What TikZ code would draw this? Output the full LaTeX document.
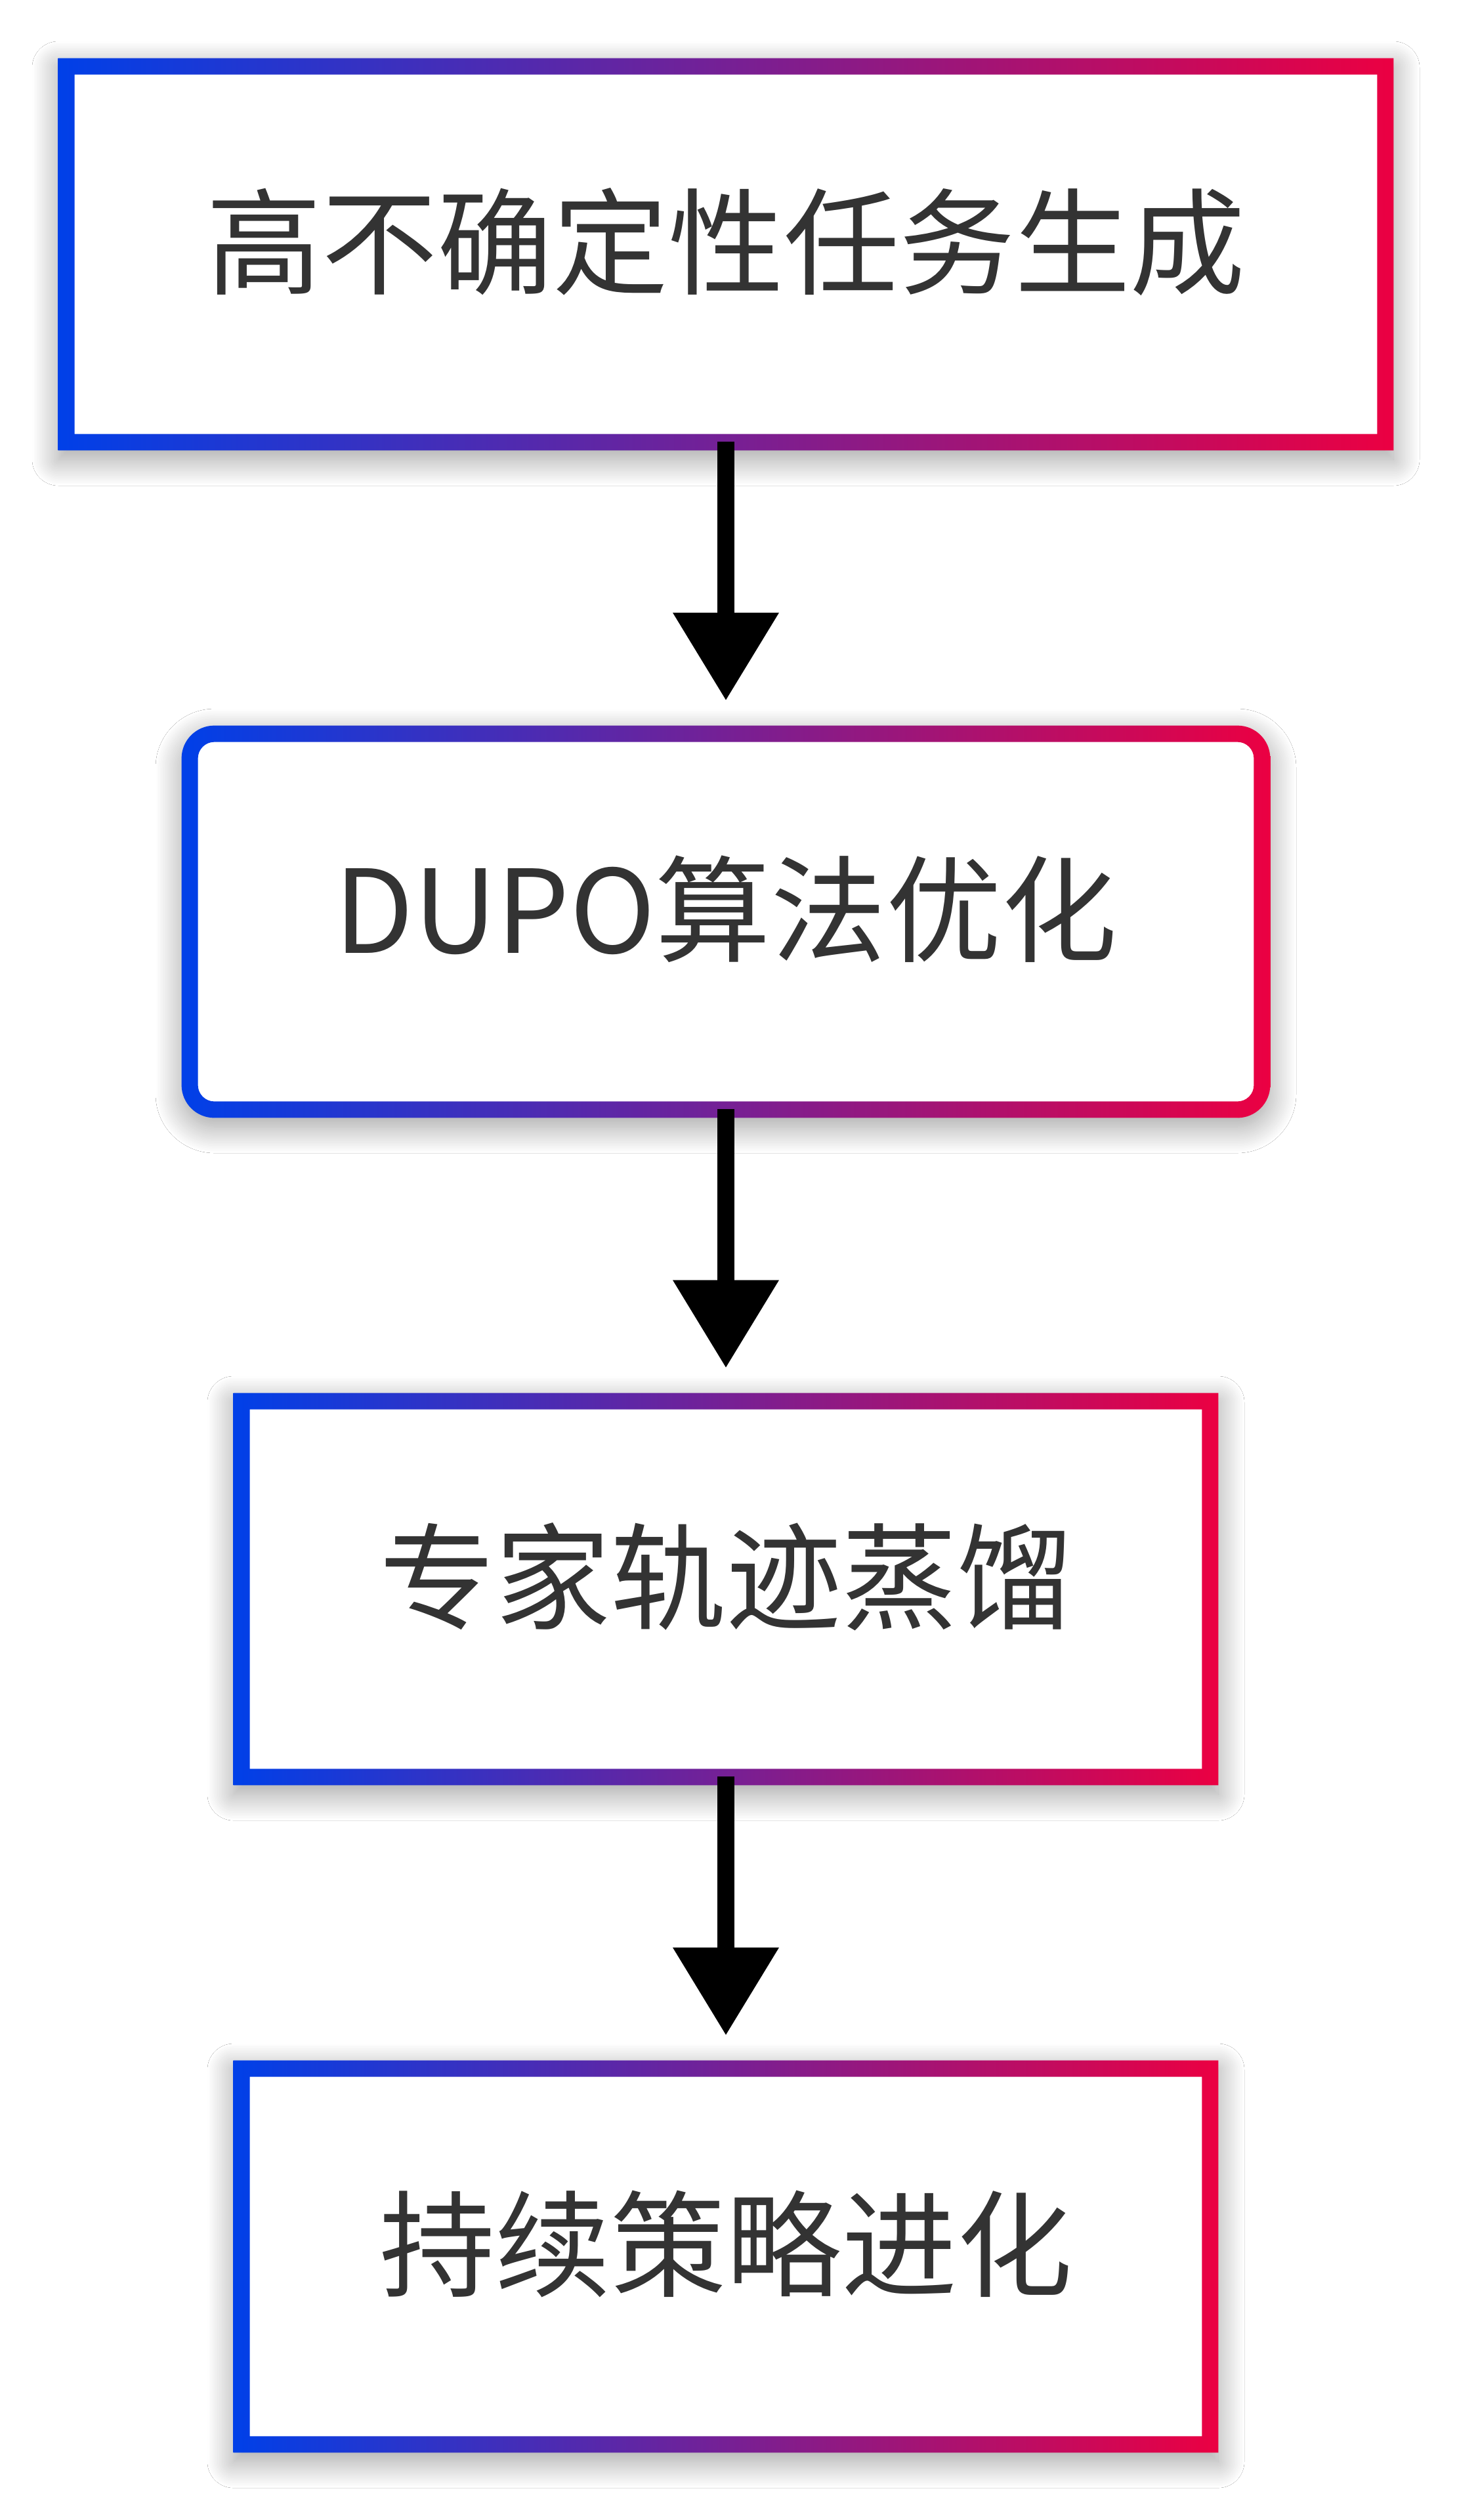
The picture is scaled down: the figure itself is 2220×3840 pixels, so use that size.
\documentclass[tikz,border=0pt]{standalone}
\usepackage{fontspec}
\newfontfamily\cjk{Noto Sans CJK SC}
\usetikzlibrary{arrows.meta,shadows.blur}
\definecolor{gblue}{RGB}{0,64,232}
\definecolor{gred}{RGB}{235,0,66}
\definecolor{txt}{RGB}{51,51,51}
\begin{document}
\begin{tikzpicture}[x=0.5pt,y=-0.5pt,
  box/.style={rectangle, fill=white, inner sep=0pt, minimum height=298.5pt,
    text height=62pt, text depth=14pt,
    font=\cjk\fontsize{88}{100}\selectfont, text=txt,
    blur shadow={shadow xshift=0pt, shadow yshift=-7pt, shadow blur radius=20pt,
      shadow opacity=38, shadow blur steps=30}},
  ring/.style={even odd rule, left color=gblue, right color=gred, draw=none},
  flow/.style={line width=13pt, black, -{Triangle[width=81pt,length=66.5pt,line width=0pt]}}]
\useasboundingbox (0,0) rectangle (2220,3840);
\fill[white] (0,0) rectangle (2220,3840);

\node[box, minimum width=1017pt] (b1) at (1106,387.5) {高不确定性任务生成};
\node[box, minimum width=829pt, rounded corners=25pt] (b2) at (1106,1404.5) {DUPO算法优化};
\node[box, minimum width=750pt] (b3) at (1106,2421.5) {专家轨迹蒸馏};
\node[box, minimum width=750pt] (b4) at (1106,3438.5) {持续策略进化};

\path[ring] (b1.south west) rectangle (b1.north east)
  ([shift={(12.5pt,12.5pt)}]b1.south west) rectangle ([shift={(-12.5pt,-12.5pt)}]b1.north east);
\path[ring] [rounded corners=25pt] (b2.south west) rectangle (b2.north east)
  [rounded corners=12.5pt] ([shift={(12.5pt,12.5pt)}]b2.south west) rectangle ([shift={(-12.5pt,-12.5pt)}]b2.north east);
\path[ring] (b3.south west) rectangle (b3.north east)
  ([shift={(12.5pt,12.5pt)}]b3.south west) rectangle ([shift={(-12.5pt,-12.5pt)}]b3.north east);
\path[ring] (b4.south west) rectangle (b4.north east)
  ([shift={(12.5pt,12.5pt)}]b4.south west) rectangle ([shift={(-12.5pt,-12.5pt)}]b4.north east);

\draw[flow] ([yshift=6.5pt]b1.south) -- ([yshift=19.5pt]b2.north);
\draw[flow] ([yshift=6.5pt]b2.south) -- ([yshift=19.5pt]b3.north);
\draw[flow] ([yshift=6.5pt]b3.south) -- ([yshift=19.5pt]b4.north);
\end{tikzpicture}
\end{document}
